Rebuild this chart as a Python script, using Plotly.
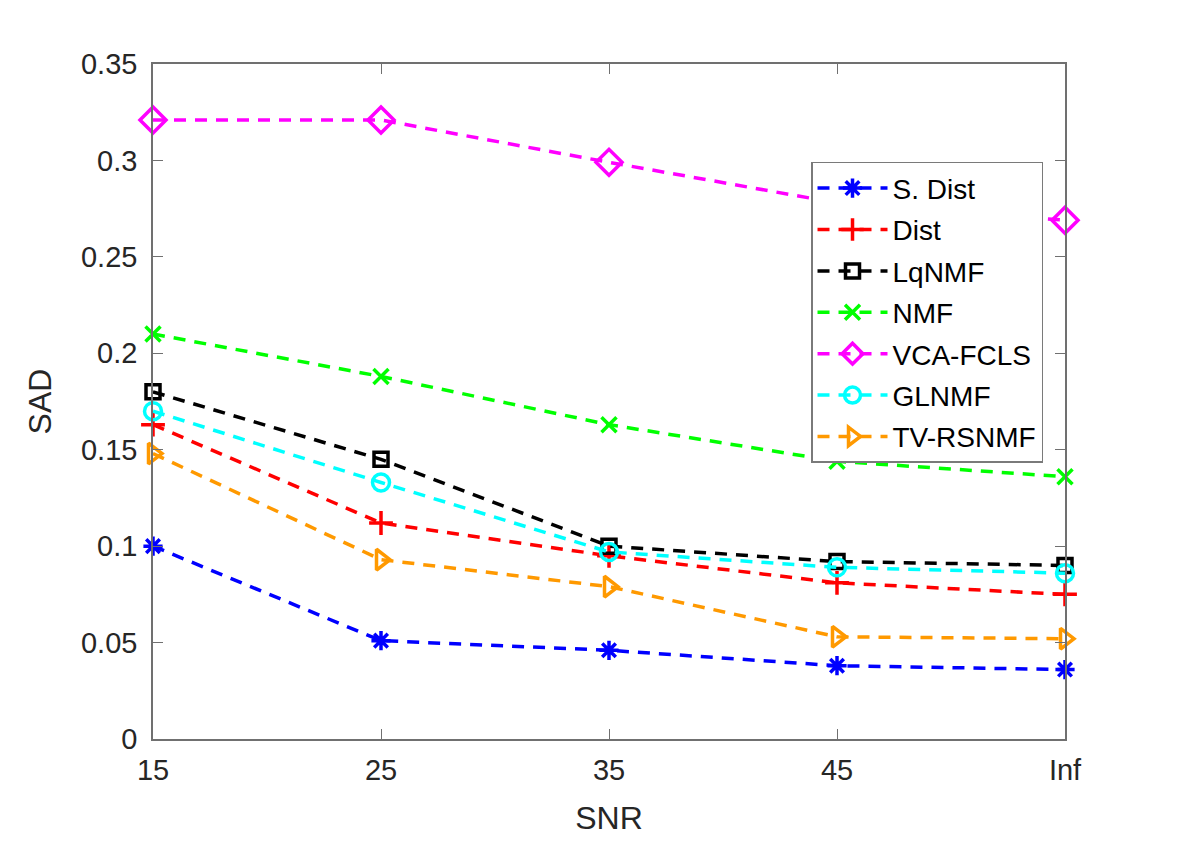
import plotly.graph_objects as go

snr = ["15", "25", "35", "45", "Inf"]

s_dist = [0.100, 0.051, 0.046, 0.038, 0.036]
dist = [0.163, 0.112, 0.095, 0.081, 0.075]
lqnmf = [0.180, 0.145, 0.100, 0.092, 0.090]
nmf = [0.210, 0.188, 0.163, 0.144, 0.136]
vca_fcls = [0.321, 0.321, 0.299, 0.278, 0.269]
glnmf = [0.170, 0.133, 0.097, 0.089, 0.086]
tv_rsnmf = [0.148, 0.093, 0.079, 0.053, 0.052]

series = [
    ("S. Dist", s_dist, "#0000FF", "asterisk-open", 16),
    ("Dist", dist, "#FF0000", "cross-thin-open", 17),
    ("LqNMF", lqnmf, "#000000", "square-open", 14),
    ("NMF", nmf, "#00FF00", "x-thin-open", 15),
    ("VCA-FCLS", vca_fcls, "#FF00FF", "diamond-open", 20),
    ("GLNMF", glnmf, "#00FFFF", "circle-open", 17),
    ("TV-RSNMF", tv_rsnmf, "#FF9900", "triangle-right-open", 18),
]

fig = go.Figure()
for name, vals, color, sym, sz in series:
    fig.add_trace(go.Scatter(
        x=snr, y=vals, name=name, mode="lines+markers",
        legendgroup=name,
        line=dict(color=color, width=3.5, dash="12px,9px"),
        marker=dict(symbol=sym, size=sz, color=color,
                    line=dict(color=color, width=3.5)),
        cliponaxis=False,
    ))

font = "Liberation Sans, Arial, sans-serif"
fig.update_layout(
    width=1180, height=842,
    margin=dict(l=153, r=115, t=64, b=101),
    paper_bgcolor="white", plot_bgcolor="white",
    font=dict(family=font, size=29, color="#262626"),
    showlegend=True,
    legend=dict(
        x=0.7215, y=0.855, xanchor="left", yanchor="top",
        bgcolor="white", bordercolor="#7a7a7a", borderwidth=1.5,
        font=dict(size=28, color="#000000"),
        itemwidth=70, traceorder="grouped", tracegroupgap=2,
    ),
    xaxis=dict(
        type="category", range=[0, 4],
        title=dict(text="SNR", font=dict(size=32), standoff=22),
        showgrid=False, zeroline=False,
        showline=True, linecolor="#707070", linewidth=1.5, mirror="allticks",
        ticks="inside", ticklen=10, tickcolor="#707070", tickwidth=1,
        ticklabelstandoff=4,
    ),
    yaxis=dict(
        range=[0, 0.35],
        tickvals=[0, 0.05, 0.1, 0.15, 0.2, 0.25, 0.3, 0.35],
        ticktext=["0", "0.05", "0.1", "0.15", "0.2", "0.25", "0.3", "0.35"],
        title=dict(text="SAD", font=dict(size=32), standoff=20),
        showgrid=False, zeroline=False,
        showline=True, linecolor="#707070", linewidth=1.5, mirror="allticks",
        ticks="inside", ticklen=10, tickcolor="#707070", tickwidth=1,
        ticklabelstandoff=8,
    ),
)

fig.write_html("out.html")
